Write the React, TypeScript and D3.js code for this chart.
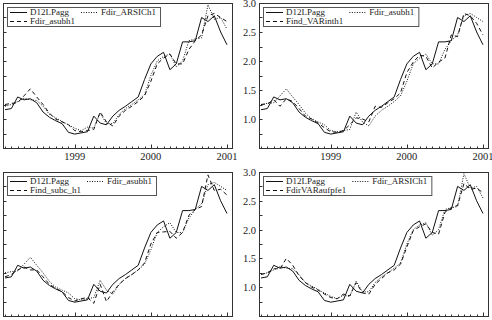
import React, { useEffect, useRef } from "react";
import * as d3 from "d3";

// monthly observations 1998:2 .. 2001:1 as fractional years
const months = d3.range(36).map(i => 1998 + (i + 1) / 12);

const D12LPagg = [1.16, 1.18, 1.38, 1.33, 1.35, 1.28, 1.12, 1.03, 0.97, 0.92, 0.77, 0.74,
  0.76, 0.78, 1.05, 0.93, 0.90, 1.05, 1.15, 1.22, 1.30, 1.38, 1.68, 1.95,
  2.08, 2.15, 1.85, 1.95, 2.33, 2.33, 2.35, 2.75, 2.68, 2.78, 2.50, 2.28];

const Fdir_ARSICh1 = [1.22, 1.25, 1.30, 1.36, 1.33, 1.32, 1.22, 1.08, 1.02, 0.96, 0.90, 0.84,
  0.80, 0.86, 0.84, 1.10, 0.92, 0.92, 1.08, 1.18, 1.25, 1.33, 1.42, 1.75,
  2.00, 2.08, 2.12, 1.90, 2.00, 2.35, 2.38, 2.40, 2.97, 2.72, 2.75, 2.55];

const Fdir_asubh1 = [1.25, 1.27, 1.28, 1.40, 1.52, 1.38, 1.25, 1.10, 1.00, 0.95, 0.90, 0.80,
  0.78, 0.80, 0.82, 1.12, 0.95, 0.88, 1.05, 1.15, 1.22, 1.30, 1.40, 1.65,
  1.95, 2.05, 2.12, 1.95, 1.95, 2.20, 2.35, 2.45, 2.78, 2.82, 2.75, 2.68];

const Find_VARinth1 = [1.25, 1.26, 1.33, 1.22, 1.35, 1.30, 1.18, 1.05, 1.00, 0.93, 0.85, 0.78,
  0.77, 0.80, 0.90, 1.02, 1.00, 0.95, 1.22, 1.20, 1.28, 1.35, 1.45, 1.80,
  1.98, 2.10, 2.08, 1.88, 1.98, 2.05, 2.45, 2.42, 2.82, 2.78, 2.65, 2.45];

const Find_subc_h1 = [1.18, 1.22, 1.30, 1.35, 1.30, 1.30, 1.18, 1.05, 0.98, 0.92, 0.82, 0.76,
  0.80, 0.82, 0.72, 1.05, 0.75, 0.92, 1.05, 1.15, 1.22, 1.30, 1.42, 1.75,
  1.95, 1.96, 1.97, 1.85, 1.95, 2.25, 2.35, 2.40, 2.95, 2.68, 2.70, 2.60];

const FdirVARaufpfe1 = [1.22, 1.25, 1.32, 1.32, 1.50, 1.38, 1.20, 1.08, 1.00, 0.95, 0.88, 0.82,
  0.80, 0.88, 0.85, 1.08, 0.90, 0.88, 1.05, 1.15, 1.25, 1.30, 1.40, 1.70,
  1.98, 2.05, 2.10, 1.95, 1.92, 2.30, 2.38, 2.42, 2.80, 2.70, 2.72, 2.64];

const panels = [
  { series: [D12LPagg, Fdir_ARSICh1, Fdir_asubh1], names: ["D12LPagg", "Fdir_ARSICh1", "Fdir_asubh1"] },
  { series: [D12LPagg, Fdir_asubh1, Find_VARinth1], names: ["D12LPagg", "Fdir_asubh1", "Find_VARinth1"] },
  { series: [D12LPagg, Fdir_asubh1, Find_subc_h1], names: ["D12LPagg", "Fdir_asubh1", "Find_subc_h1"] },
  { series: [D12LPagg, Fdir_ARSICh1, FdirVARaufpfe1], names: ["D12LPagg", "Fdir_ARSICh1", "FdirVARaufpfe1"] },
];

const yTicks = [0.75, 1.0, 1.25, 1.5, 1.75, 2.0, 2.25, 2.5, 2.75, 3.0];
const yLabels = ["1.0", "1.5", "2.0", "2.5", "3.0"];
const yearTicks = [1999, 2000, 2001];

const dashes = [null, "1,1.5", "4,3"];
const fontFam = "'Liberation Serif', 'Times New Roman', serif";

const App = () => {
  const ref = useRef<SVGSVGElement | null>(null);

  useEffect(() => {
    const svg = d3.select(ref.current);
    svg.selectAll("*").remove();

    const lefts = [3, 259];
    const tops = [3, 172];
    const w = 229;
    const hs = [145, 144];

    panels.forEach((p, k) => {
      const col = k % 2;
      const row = Math.floor(k / 2);
      const x0 = lefts[col];
      const y0 = tops[row];
      const h = hs[row];
      const x = d3.scaleLinear().domain([1998.057, 2001.066]).range([x0, x0 + w]);
      const y = d3.scaleLinear().domain([0.5, 3.0]).range([y0 + h, y0]);
      const g = svg.append("g");

      // frame
      g.append("rect")
        .attr("x", x0 + 0.5).attr("y", y0 + 0.5)
        .attr("width", w).attr("height", h)
        .attr("fill", "none").attr("stroke", "#333").attr("stroke-width", 1);

      // y ticks (inside)
      g.selectAll("line.yt").data(yTicks).join("line")
        .attr("x1", x0 + 0.5).attr("x2", x0 + 3.5)
        .attr("y1", d => Math.round(y(d)) + 0.5).attr("y2", d => Math.round(y(d)) + 0.5)
        .attr("stroke", "#333");

      // labels only where the page shows them (left panels' labels fall off-page)
      if (col === 1) {
        g.selectAll("text.yl").data(yLabels).join("text")
          .attr("x", x0 - 3).attr("y", d => y(+d) + 1.5)
          .attr("text-anchor", "end").attr("dominant-baseline", "middle")
          .style("font-family", fontFam).style("font-size", "10.5px").attr("fill", "#222")
          .text(d => d);
      }

      // x ticks: monthly minor, yearly major
      g.selectAll("line.xt").data(months).join("line")
        .attr("x1", d => Math.round(x(d)) + 0.5).attr("x2", d => Math.round(x(d)) + 0.5)
        .attr("y1", y0 + h + 0.5).attr("y2", y0 + h - 1.5)
        .attr("stroke", "#333");
      g.selectAll("line.xy").data(yearTicks).join("line")
        .attr("x1", d => Math.round(x(d)) + 0.5).attr("x2", d => Math.round(x(d)) + 0.5)
        .attr("y1", y0 + h + 0.5).attr("y2", y0 + h - 3.5)
        .attr("stroke", "#333");
      if (row === 0) {
        g.selectAll("text.xl").data(yearTicks).join("text")
          .attr("x", d => x(d)).attr("y", y0 + h + 12)
          .attr("text-anchor", "middle")
          .style("font-family", fontFam).style("font-size", "10.5px").attr("fill", "#222")
          .text(d => d);
      }

      // series
      const line = d3.line<number>().x((_, i) => x(months[i])).y(d => y(d));
      p.series.forEach((s, i) => {
        g.append("path")
          .attr("d", line(s))
          .attr("fill", "none")
          .attr("stroke", "#111")
          .attr("stroke-width", 1)
          .attr("stroke-dasharray", dashes[i]);
      });

      // legend
      const lx = x0 + 4;
      const ly = y0 + 4;
      const lg = g.append("g");
      const box = lg.append("rect")
        .attr("x", lx + 0.5).attr("y", ly + 0.5).attr("height", 19)
        .attr("fill", "white").attr("stroke", "#555");
      const texts: SVGTextElement[] = [];
      const pos = [[0, 0], [1, 0], [0, 1]];
      const rowY = [ly + 5.5, ly + 14.5];
      const colX = [lx + 3, 0];
      const items = p.names.map((n, i) => {
        const t = lg.append("text")
          .attr("y", rowY[pos[i][1]])
          .attr("dominant-baseline", "middle")
          .style("font-family", fontFam).style("font-size", "9px").attr("fill", "#222")
          .text(n);
        texts.push(t.node() as SVGTextElement);
        return t;
      });
      const c1w = Math.max(texts[0].getComputedTextLength(), texts[2].getComputedTextLength());
      colX[1] = colX[0] + 20 + c1w + 6;
      items.forEach((t, i) => {
        const sx = colX[pos[i][0]];
        const sy = rowY[pos[i][1]];
        lg.append("line")
          .attr("x1", sx).attr("x2", sx + 17)
          .attr("y1", sy).attr("y2", sy)
          .attr("stroke", "#111").attr("stroke-dasharray", dashes[i]);
        t.attr("x", sx + 20);
      });
      box.attr("width", colX[1] + 20 + texts[1].getComputedTextLength() + 4 - lx);
    });
  }, []);

  return (
    <svg ref={ref} width={492} height={320}
      style={{ position: "absolute", left: 0, top: 0, background: "white" }} />
  );
};

export default App;
